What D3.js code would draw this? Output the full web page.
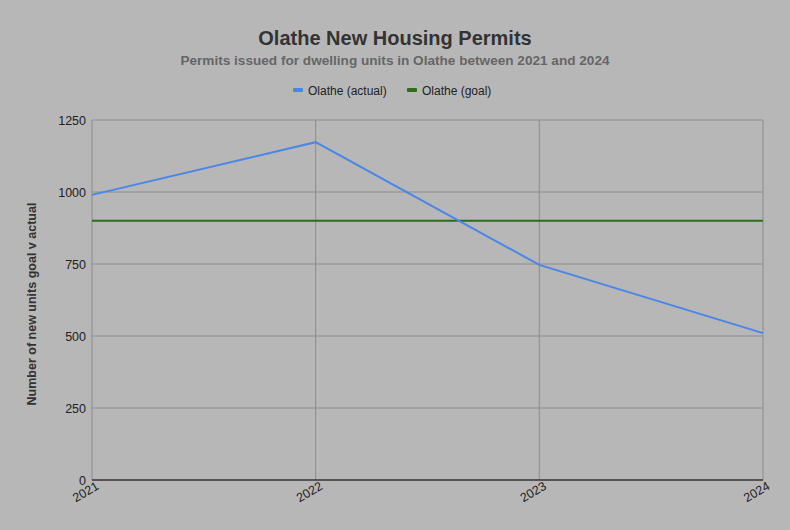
<!DOCTYPE html>
<html><head><meta charset="utf-8">
<script src="https://cdn.jsdelivr.net/npm/d3@7"></script>
<style>body{margin:0;background:#b7b7b7;}svg{display:block;font-family:Arial,"Liberation Sans",sans-serif;}</style>
</head><body>
<svg id="c" width="790" height="530"></svg>
<script>
const years = ["2021", "2022", "2023", "2024"];
const actual = [990, 1173, 747, 510];
const goal = [900, 900, 900, 900];
const yTicks = [0, 250, 500, 750, 1000, 1250];
const seriesNames = ["Olathe (actual)", "Olathe (goal)"];
const seriesColors = ["#4a86e8", "#2e6b1a"];

const svg = d3.select("#c");
const W = 790, H = 530;
svg.append("rect").attr("width", W).attr("height", H).attr("fill", "#b7b7b7");
const m = {l: 92, r: 27, t: 120, b: 50};
const x = d3.scalePoint().domain(years).range([m.l, W - m.r]);
const y = d3.scaleLinear().domain([0, 1250]).range([H - m.b, m.t]);

// horizontal grid
svg.append("g").selectAll("line").data(yTicks.filter(d => d > 0)).join("line")
  .attr("x1", m.l).attr("x2", W - m.r).attr("y1", d => y(d)).attr("y2", d => y(d))
  .attr("stroke", "#8c8c8c").attr("stroke-width", 1);
// vertical grid
svg.append("g").selectAll("line").data(years).join("line")
  .attr("x1", d => x(d)).attr("x2", d => x(d)).attr("y1", y(1250)).attr("y2", y(0))
  .attr("stroke", "#8c8c8c").attr("stroke-width", 1);
// baseline
svg.append("line").attr("x1", m.l).attr("x2", W - m.r).attr("y1", y(0)).attr("y2", y(0))
  .attr("stroke", "#333").attr("stroke-width", 1.5);

// y axis labels
const ya = svg.append("g").attr("transform", `translate(${m.l},0)`)
  .call(d3.axisLeft(y).tickValues(yTicks).tickSize(0).tickPadding(6).tickFormat(d3.format("d")));
ya.select(".domain").remove();
ya.selectAll("text").attr("font-size", 12.5).attr("fill", "#222").attr("font-family", "Arial, 'Liberation Sans', sans-serif");

// x axis labels
const xa = svg.append("g").attr("transform", `translate(0,${y(0)})`)
  .call(d3.axisBottom(x).tickSize(0).tickPadding(0));
xa.select(".domain").remove();
xa.selectAll("text").attr("font-size", 12.5).attr("fill", "#222")
  .attr("font-family", "Arial, 'Liberation Sans', sans-serif")
  .attr("text-anchor", "end").attr("dy", null).attr("y", 0)
  .attr("transform", "translate(3,1) rotate(-30)").attr("dominant-baseline", "hanging");

// lines
const line = d3.line().x((d, i) => x(years[i])).y(d => y(d));
svg.append("path").datum(goal).attr("d", line).attr("fill", "none")
  .attr("stroke", seriesColors[1]).attr("stroke-width", 2);
svg.append("path").datum(actual).attr("d", line).attr("fill", "none")
  .attr("stroke", seriesColors[0]).attr("stroke-width", 2);

// titles
svg.append("text").attr("x", 395).attr("y", 45).attr("text-anchor", "middle")
  .attr("font-size", 20).attr("font-weight", "bold").attr("fill", "#333")
  .text("Olathe New Housing Permits");
svg.append("text").attr("x", 395).attr("y", 65).attr("text-anchor", "middle")
  .attr("font-size", 13.6).attr("font-weight", "bold").attr("fill", "#666")
  .text("Permits issued for dwelling units in Olathe between 2021 and 2024");

// legend
const legX = [293, 407];
seriesNames.forEach((n, i) => {
  svg.append("rect").attr("x", legX[i]).attr("y", 88).attr("width", 10).attr("height", 4)
    .attr("rx", 1).attr("fill", seriesColors[i]);
  svg.append("text").attr("x", legX[i] + 15).attr("y", 94.5).attr("font-size", 12)
    .attr("fill", "#222").text(n);
});

// y axis title
svg.append("text").attr("transform", `translate(36,${(y(0) + y(1250)) / 2 + 4}) rotate(-90)`)
  .attr("text-anchor", "middle").attr("font-size", 12.5).attr("font-weight", "bold").attr("fill", "#333")
  .text("Number of new units goal v actual");
</script>
</body></html>
